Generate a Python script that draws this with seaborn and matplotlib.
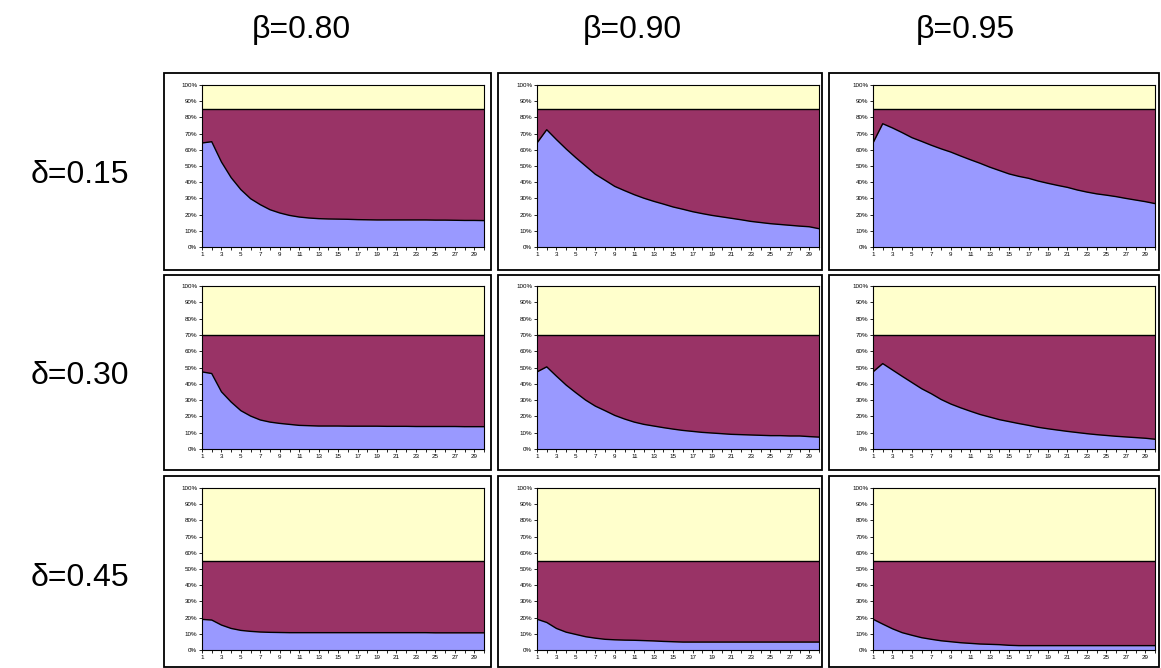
import matplotlib
matplotlib.use("Agg")
import numpy as np
import pandas as pd
import matplotlib.pyplot as plt
import seaborn as sns
from matplotlib.patches import Rectangle

# periods on the x axis
periods = list(range(1, 31))
betas = [0.80, 0.90, 0.95]
deltas = [0.15, 0.30, 0.45]

# bottom (blue) share in %, one list per panel: rows = delta, cols = beta
blue_d15_b80 = [64.2, 65.0, 52.5, 42.8, 35.4, 29.8, 26.1, 23.0, 21.0, 19.5,
                18.5, 17.9, 17.5, 17.3, 17.2, 17.1, 16.9, 16.8, 16.7, 16.7,
                16.7, 16.7, 16.7, 16.7, 16.6, 16.6, 16.5, 16.4, 16.4, 16.3]
blue_d15_b90 = [64.2, 72.4, 66.3, 60.5, 55.1, 50.0, 44.9, 41.2, 37.4, 34.8,
                32.3, 30.1, 28.2, 26.5, 24.7, 23.3, 21.8, 20.6, 19.5, 18.6,
                17.7, 16.8, 15.8, 15.1, 14.4, 13.9, 13.4, 12.9, 12.5, 11.3]
blue_d15_b95 = [64.2, 76.1, 73.5, 70.6, 67.5, 65.2, 62.8, 60.6, 58.6, 56.2,
                53.9, 51.7, 49.3, 47.2, 45.1, 43.6, 42.4, 40.7, 39.3, 38.0,
                36.8, 35.2, 33.9, 32.8, 32.0, 31.1, 30.0, 29.0, 28.0, 26.8]
blue_d30_b80 = [47.3, 46.3, 35.1, 28.8, 23.5, 20.2, 17.8, 16.5, 15.7, 15.1,
                14.5, 14.3, 14.1, 14.1, 14.1, 14.0, 14.0, 14.0, 14.0, 13.9,
                13.9, 13.9, 13.8, 13.8, 13.8, 13.8, 13.8, 13.7, 13.7, 13.7]
blue_d30_b90 = [47.3, 50.4, 44.7, 39.2, 34.5, 30.0, 26.3, 23.5, 20.6, 18.4,
                16.5, 15.1, 14.1, 13.1, 12.2, 11.4, 10.8, 10.2, 9.8, 9.4,
                9.0, 8.8, 8.6, 8.4, 8.2, 8.2, 8.0, 8.0, 7.6, 7.3]
blue_d30_b95 = [47.3, 52.4, 48.5, 44.6, 40.8, 37.0, 33.9, 30.4, 27.6, 25.3,
                23.2, 21.2, 19.6, 18.0, 16.8, 15.6, 14.5, 13.3, 12.4, 11.6,
                10.8, 10.1, 9.4, 8.8, 8.3, 7.8, 7.4, 7.0, 6.6, 6.0]
blue_d45_b80 = [18.9, 18.5, 15.4, 13.3, 12.1, 11.5, 11.1, 10.9, 10.8, 10.7,
                10.7, 10.7, 10.7, 10.7, 10.7, 10.7, 10.7, 10.7, 10.7, 10.7,
                10.7, 10.7, 10.7, 10.7, 10.6, 10.6, 10.6, 10.6, 10.6, 10.6]
blue_d45_b90 = [19.0, 17.0, 13.3, 11.0, 9.6, 8.2, 7.3, 6.6, 6.3, 6.1,
                6.0, 5.8, 5.6, 5.3, 5.1, 4.9, 4.9, 4.9, 4.9, 4.9,
                4.9, 4.9, 4.9, 4.9, 4.9, 4.9, 4.9, 4.9, 4.9, 4.9]
blue_d45_b95 = [19.0, 16.0, 13.1, 10.7, 9.1, 7.6, 6.6, 5.7, 5.1, 4.5,
                4.1, 3.7, 3.5, 3.3, 2.9, 2.7, 2.7, 2.7, 2.7, 2.7,
                2.7, 2.7, 2.7, 2.7, 2.7, 2.7, 2.7, 2.7, 2.7, 2.7]

blue = [[blue_d15_b80, blue_d15_b90, blue_d15_b95],
        [blue_d30_b80, blue_d30_b90, blue_d30_b95],
        [blue_d45_b80, blue_d45_b90, blue_d45_b95]]

c_blue = "#9999FF"
c_purple = "#993366"
c_yellow = "#FFFFCC"

sns.set_style("white")
plt.rcParams["font.family"] = ["Liberation Sans", "DejaVu Sans"]
plt.rcParams["text.color"] = "black"

W, H = 1161, 668
fig = plt.figure(figsize=(W / 100, H / 100), dpi=100)

plot_cols = [(202, 484), (537, 819), (873, 1155)]
plot_rows = [(85, 247), (286, 449), (488, 650)]
box_cols = [(164, 491), (498, 822), (829, 1159)]
box_rows = [(73, 270), (275, 470), (476, 667)]
header_x = [301, 632, 965]


def fig_rect(x0, x1, y0, y1):
    return [x0 / W, 1 - y1 / H, (x1 - x0) / W, (y1 - y0) / H]


for i, d in enumerate(deltas):
    for j, b in enumerate(betas):
        bx0, bx1 = box_cols[j]
        by0, by1 = box_rows[i]
        r = fig_rect(bx0, bx1, by0, by1)
        fig.add_artist(Rectangle((r[0], r[1]), r[2], r[3], transform=fig.transFigure,
                                 fill=False, ec="black", lw=1.3))

        ax = fig.add_axes(fig_rect(*plot_cols[j], *plot_rows[i]))
        low = np.array(blue[i][j]) / 100
        mid = np.full(len(periods), 1 - d)
        df = pd.DataFrame({"period": periods, "low": low, "mid": mid})
        ax.fill_between(df["period"], 0, df["low"], color=c_blue, lw=0)
        ax.fill_between(df["period"], df["low"], df["mid"], color=c_purple, lw=0)
        ax.fill_between(df["period"], df["mid"], 1, color=c_yellow, lw=0)
        sns.lineplot(data=df, x="period", y="low", ax=ax, color="black", lw=1)
        sns.lineplot(data=df, x="period", y="mid", ax=ax, color="black", lw=1)

        ax.set_xlim(1, 30)
        ax.set_ylim(0, 1)
        ax.set_xlabel("")
        ax.set_ylabel("")
        ax.set_xticks(periods)
        ax.set_xticklabels([str(p) if p % 2 == 1 else "" for p in periods])
        ax.set_yticks(np.linspace(0, 1, 11))
        ax.set_yticklabels([f"{k * 10}%" for k in range(11)])
        ax.tick_params(axis="both", direction="out", length=2, width=0.6,
                       labelsize=4.5, pad=1.5, colors="black")
        ax.tick_params(left=True, bottom=True)
        for s in ax.spines.values():
            s.set_color("black")
            s.set_linewidth(0.8)

for j, b in enumerate(betas):
    fig.text(header_x[j] / W, 1 - 30 / H, f"β={b:.2f}", ha="center", va="center",
             fontsize=23, color="black")

for i, d in enumerate(deltas):
    yc = 1 - ((plot_rows[i][0] + plot_rows[i][1]) / 2 + 9) / H
    fig.text(80 / W, yc, f"δ={d:.2f}", ha="center", va="center", fontsize=23,
             color="black")

fig.savefig("out.png", dpi=100)
